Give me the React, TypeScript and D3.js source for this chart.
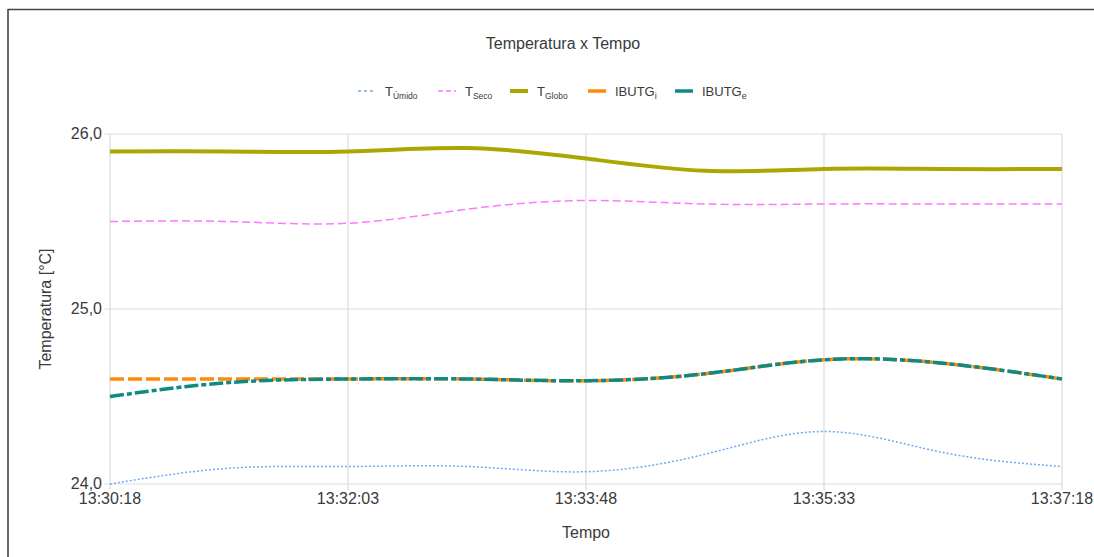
import React from "react";
import * as d3 from "d3";

const times = ["13:30:18", "13:31:10", "13:32:03", "13:32:55", "13:33:48", "13:34:40", "13:35:33", "13:36:25", "13:37:18"];
const xTickLabels = ["13:30:18", "13:32:03", "13:33:48", "13:35:33", "13:37:18"];
const yTicks = [24, 25, 26];

const tUmido = [24.0, 24.09, 24.1, 24.1, 24.07, 24.17, 24.3, 24.18, 24.1];
const tSeco = [25.5, 25.5, 25.49, 25.57, 25.62, 25.6, 25.6, 25.6, 25.6];
const tGlobo = [25.9, 25.9, 25.9, 25.92, 25.86, 25.79, 25.8, 25.8, 25.8];
const ibutgI = [24.6, 24.6, 24.6, 24.6, 24.59, 24.63, 24.71, 24.69, 24.6];
const ibutgE = [24.5, 24.58, 24.6, 24.6, 24.59, 24.63, 24.71, 24.69, 24.6];

const W = 1094, H = 557;
const M = { left: 110, right: 1062, top: 134, bottom: 484 };
const FONT = "'Liberation Sans', Arial, sans-serif";
const TXT = "#3a3a3a";

type S = { key: string; main: string; sub: string; values: number[]; color: string; width: number; dash: string | null; legendDash: string | null };
const series: S[] = [
  { key: "u", main: "T", sub: "Úmido", values: tUmido, color: "#6fa8f5", width: 1.5, dash: "2,2", legendDash: "3,3" },
  { key: "s", main: "T", sub: "Seco", values: tSeco, color: "#ff77ff", width: 1.5, dash: "8,4", legendDash: "5,3" },
  { key: "g", main: "T", sub: "Globo", values: tGlobo, color: "#aaa800", width: 4, dash: null, legendDash: null },
  { key: "i", main: "IBUTG", sub: "i", values: ibutgI, color: "#ff8a0a", width: 3.5, dash: "14,4", legendDash: null },
  { key: "e", main: "IBUTG", sub: "e", values: ibutgE, color: "#0e8a82", width: 3.5, dash: "14,3,5,3", legendDash: null },
];
const drawOrder = ["u", "s", "g", "i", "e"];

const legendX = [358, 438, 510, 588, 675];

export default function App() {
  const x = d3.scalePoint<string>().domain(times).range([M.left, M.right]).padding(0);
  const y = d3.scaleLinear().domain([24, 26]).range([M.bottom, M.top]);
  const line = (vals: number[]) =>
    d3.line<number>().x((_, i) => x(times[i]) as number).y((v) => y(v)).curve(d3.curveNatural)(vals) || "";

  return (
    <svg width={W} height={H} style={{ position: "absolute", left: 0, top: 0, background: "#fff" }} fontFamily={FONT}>
      <rect x={0} y={0} width={W} height={H} fill="#fff" />
      <line x1={8} y1={9.5} x2={W} y2={9.5} stroke="#444" strokeWidth={1.6} />
      <line x1={8} y1={9} x2={8} y2={H} stroke="#444" strokeWidth={1.6} />

      <text x={563} y={49} textAnchor="middle" fontSize={16} fill={TXT}>Temperatura x Tempo</text>

      {series.map((s, k) => {
        const lx = legendX[k];
        const isI = s.main === "IBUTG";
        return (
          <g key={s.key}>
            <line x1={lx} x2={lx + 18} y1={91} y2={91} stroke={s.color} strokeWidth={Math.max(s.width, 1.5)}
              strokeDasharray={s.legendDash || undefined} />
            <text x={lx + 27} y={96} fontSize={13} fill={TXT}>
              {s.main}
              <tspan fontSize={isI ? 9 : 8.5} dy={3}>{s.sub}</tspan>
            </text>
          </g>
        );
      })}

      {yTicks.map((t) => (
        <g key={"y" + t}>
          <line x1={M.left - 6} x2={M.right} y1={y(t)} y2={y(t)} stroke="#dcdcdc" strokeWidth={1.2} />
          <text x={M.left - 8} y={y(t) + 5} textAnchor="end" fontSize={16} fill={TXT}>{d3.format(".1f")(t).replace(".", ",")}</text>
        </g>
      ))}
      {xTickLabels.map((t) => (
        <g key={"x" + t}>
          <line x1={x(t)} x2={x(t)} y1={M.top} y2={M.bottom + 6} stroke="#dcdcdc" strokeWidth={1.2} />
          <text x={x(t)} y={504} textAnchor="middle" fontSize={16} fill={TXT}>{t}</text>
        </g>
      ))}

      {drawOrder.map((k) => {
        const s = series.find((q) => q.key === k)!;
        return (
          <path key={k} d={line(s.values)} fill="none" stroke={s.color} strokeWidth={s.width}
            strokeDasharray={s.dash || undefined} strokeLinecap="butt" />
        );
      })}

      <text x={586} y={538} textAnchor="middle" fontSize={16} fill={TXT}>Tempo</text>
      <text transform={`translate(51,${(M.top + M.bottom) / 2}) rotate(-90)`} textAnchor="middle" fontSize={16} fill={TXT}>Temperatura [°C]</text>
    </svg>
  );
}
